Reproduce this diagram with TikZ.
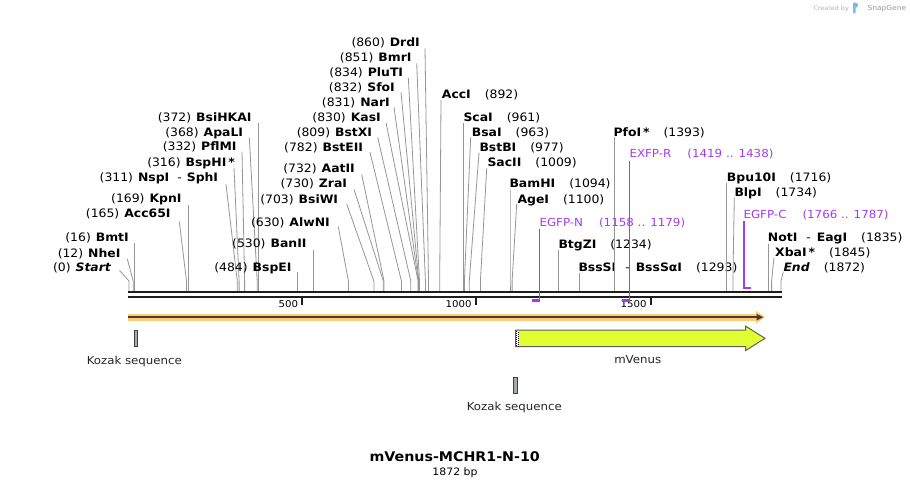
\documentclass[tikz,border=0pt]{standalone}
\usepackage{fontspec}
\setmainfont[FakeStretch=1.07]{DejaVu Sans}
\definecolor{linegray}{RGB}{150,150,150}
\definecolor{primerpurple}{RGB}{165,60,235}
\definecolor{bbcol}{RGB}{30,30,30}
\definecolor{orangeband}{RGB}{255,205,120}
\definecolor{darkline}{RGB}{70,60,50}
\definecolor{venus}{RGB}{225,255,48}
\definecolor{featborder}{RGB}{95,95,95}
\definecolor{kozakfill}{RGB}{165,170,175}
\definecolor{sgblue}{RGB}{120,190,235}
\tikzset{
  lab/.style={font=\fontsize{11.6}{13}\selectfont, inner sep=0pt, text=black},
  plab/.style={font=\fontsize{11.1}{13}\selectfont, inner sep=0pt, text=primerpurple},
  enzline/.style={draw=linegray, line width=0.8pt},
  primerline/.style={draw=primerpurple, line width=1.3pt},
  primerbar/.style={draw=primerpurple, line width=2.2pt},
  bbline/.style={draw=bbcol, line width=2.6pt},
  tickline/.style={draw=bbcol, line width=1.6pt},
  ticklab/.style={font=\fontsize{9.5}{11}\selectfont, inner sep=0pt},
  featlab/.style={font=\fontsize{11}{13}\selectfont, inner sep=0pt, text=black!85},
}
\newcommand\enzL[8]{%
  \node[lab, anchor=base east] (#1) at (#3,#2+4.3) {(#4)\hspace{5pt}\textbf{#5}};
  \coordinate (#1-a) at (#6,#7);
  \coordinate (#1-b) at (#8,281);
  \coordinate (#1-c) at (#8,291);
  \draw[enzline] (#1-a) -- (#1-b) -- (#1-c);
}
\newcommand\enzR[8]{%
  \node[lab, anchor=base west] (#1) at (#3,#2+4.3) {\textbf{#4}\hspace{14pt}(#5)};
  \coordinate (#1-a) at (#6,#7);
  \coordinate (#1-b) at (#8,281);
  \coordinate (#1-c) at (#8,291);
  \draw[enzline] (#1-a) -- (#1-b) -- (#1-c);
}
\begin{document}
\begin{tikzpicture}[x=1pt,y=-1pt]
\useasboundingbox (0,0) rectangle (910,488);
\fill[white] (0,0) rectangle (910,488);

% watermark
\node[font=\fontsize{6}{7}\selectfont, text=black!30, inner sep=0pt, anchor=base west] (created) at (813.3,10) {Created by};
\fill[sgblue] (853,2.5) rectangle (855.5,13) (855.5,2.5) arc[start angle=90,end angle=-90,radius=2.6pt] -- cycle;
\node[font=\fontsize{7}{8}\selectfont, text=black!40, inner sep=0pt, anchor=base west] (sg) at (867.3,10.5) {SnapGene};

% enzyme sites, left-side labels
\enzL{start}{266.7}{111.5}{0}{\textit{Start}}{119.5}{270.5}{129}
\enzL{nhe}{252.7}{120.7}{12}{NheI}{127.3}{259}{133.2}
\enzL{bmt}{237}{129}{16}{BmtI}{134.6}{243}{134.6}
\enzL{acc65}{213.3}{170.7}{165}{Acc65I}{179.3}{221.7}{186.5}
\enzL{kpn}{198}{181.7}{169}{KpnI}{187.9}{205}{187.9}
\enzL{nsp}{177}{218.3}{311}{NspI\hspace{8pt}\textmd{-}\hspace{5pt}SphI}{226}{184.3}{237.3}
\enzL{bsphi}{162}{235}{316}{BspHI\,*}{234}{168}{239.1}
\enzL{pflm}{146.3}{236.7}{332}{PflMI}{242}{151.7}{244.6}
\enzL{apal}{131.7}{243.3}{368}{ApaLI}{249.3}{137.7}{257.2}
\enzL{bsihk}{116.7}{251.7}{372}{BsiHKAI}{258.6}{122.7}{258.6}
\enzL{bspe}{267}{291.7}{484}{BspEI}{297.6}{271.7}{297.6}
\enzL{ban2}{243}{306.7}{530}{BanII}{313.6}{250}{313.6}
\enzL{alwn}{222}{330}{630}{AlwNI}{338.3}{226.7}{348.4}
\enzL{bsiw}{198.7}{338.3}{703}{BsiWI}{346.7}{204}{373.9}
\enzL{zra}{183}{347.3}{730}{ZraI}{354}{189.3}{383.3}
\enzL{aat2}{168}{355}{732}{AatII}{361.7}{174.3}{384.0}
\enzL{bste2}{146.7}{363.3}{782}{BstEII}{370}{152.3}{401.4}
\enzL{bstx}{131.7}{372.3}{809}{BstXI}{377.7}{137.3}{410.8}
\enzL{kas}{117}{381}{830}{KasI}{386}{122.7}{418.1}
\enzL{nar}{102}{390}{831}{NarI}{394}{107.3}{418.4}
\enzL{sfo}{87}{395}{832}{SfoI}{401}{92.3}{418.8}
\enzL{plut}{72}{403.3}{834}{PluTI}{408.3}{77.7}{419.5}
\enzL{bmr}{57}{411.7}{851}{BmrI}{416.7}{63.3}{425.4}
\enzL{drd}{42.5}{420}{860}{DrdI}{425}{48.3}{428.5}

% enzyme sites, right-side labels
\enzR{acc1}{94}{441.7}{AccI}{892}{441}{100}{439.7}
\enzR{sca}{116.7}{463.3}{ScaI}{961}{463.7}{122.7}{463.7}
\enzR{bsa}{131.7}{471.7}{BsaI}{963}{470.7}{137.3}{464.4}
\enzR{bstb}{146.7}{479.3}{BstBI}{977}{479}{152.7}{469.3}
\enzR{sac2}{162}{487.3}{SacII}{1009}{486.7}{168.3}{480.4}
\enzR{bamh}{183.3}{509.3}{BamHI}{1094}{510}{190}{510}
\enzR{age}{198.7}{517.3}{AgeI}{1100}{516.7}{204}{512.1}
\enzR{btgz}{244}{558.3}{BtgZI}{1234}{558.8}{250}{558.8}
\enzR{bsss}{266.7}{578.3}{BssSI\hspace{9pt}\textmd{-}\hspace{6pt}BssSαI}{1293}{579.3}{272.7}{579.3}
\enzR{pfo}{131.7}{613.3}{PfoI\,*}{1393}{614.2}{137.3}{614.2}
\enzR{bpu10}{177.3}{726.7}{Bpu10I}{1716}{726.7}{182.7}{726.7}
\enzR{blp}{192}{734.3}{BlpI}{1734}{734.3}{197.3}{732.9}
\enzR{not}{236.7}{767.7}{NotI\hspace{9pt}\textmd{-}\hspace{6pt}EagI}{1835}{768.1}{244}{768.1}
\enzR{xba}{252}{775}{XbaI\,*}{1845}{774}{257.3}{771.6}
\enzR{end}{267.3}{783.3}{\textit{End}}{1872}{783.3}{271.7}{781}

% backbone
\coordinate (bbL) at (128,292);
\coordinate (bbR) at (781.7,292);
\coordinate (bbL2) at (128,296.8);
\coordinate (bbR2) at (781.7,296.8);
\draw[bbline] (bbL) -- (bbR);
\draw[bbline] (bbL2) -- (bbR2);

% ticks
\coordinate (t500a) at (301.7,297); \coordinate (t500b) at (301.7,304.5);
\coordinate (t1000a) at (476,297); \coordinate (t1000b) at (476,304.5);
\coordinate (t1500a) at (651,297); \coordinate (t1500b) at (651,304.5);
\draw[tickline] (t500a) -- (t500b);
\draw[tickline] (t1000a) -- (t1000b);
\draw[tickline] (t1500a) -- (t1500b);
\node[ticklab, anchor=base east] (l500) at (298.3,307.5) {500};
\node[ticklab, anchor=base east] (l1000) at (471.7,307.5) {1000};
\node[ticklab, anchor=base east] (l1500) at (646.7,307.5) {1500};

% primers
\node[plab, anchor=base west] (egfpn) at (539.3,226) {EGFP-N\hspace{16pt}(1158 .. 1179)};
\coordinate (egfpn-a) at (539.5,228.5);
\coordinate (egfpn-b) at (539.5,301.5);
\draw[primerline] (egfpn-a) -- (egfpn-b);
\coordinate (egfpn-s) at (532.3,300.5); \coordinate (egfpn-e) at (539.8,300.5);
\draw[primerbar] (egfpn-s) -- (egfpn-e);

\node[plab, anchor=base west] (exfpr) at (629.3,157.6) {EXFP-R\hspace{16pt}(1419 .. 1438)};
\coordinate (exfpr-a) at (629.5,160.5);
\coordinate (exfpr-b) at (629.5,301.5);
\draw[primerline] (exfpr-a) -- (exfpr-b);
\coordinate (exfpr-s) at (622.3,300.5); \coordinate (exfpr-e) at (629.8,300.5);
\draw[primerbar] (exfpr-s) -- (exfpr-e);

\node[plab, anchor=base west] (egfpc) at (743.3,218.6) {EGFP-C\hspace{16pt}(1766 .. 1787)};
\coordinate (egfpc-a) at (744,220.5);
\coordinate (egfpc-b) at (744,288.5);
\draw[primerline] (egfpc-a) -- (egfpc-b);
\coordinate (egfpc-s) at (743.4,287.7); \coordinate (egfpc-e) at (751.2,287.7);
\draw[primerbar] (egfpc-s) -- (egfpc-e);

% orange ORF arrow
\coordinate (orfL) at (128,317.2);
\coordinate (orfR) at (757.5,317.2);
\draw[orangeband, line width=7pt] (orfL) -- (orfR);
\fill[orangeband] (756,310.8) -- (765,317.2) -- (756,323.6) -- cycle;
\coordinate (orfL2) at (128,317.2);
\coordinate (orfR2) at (758,317.2);
\draw[darkline, line width=2pt] (orfL2) -- (orfR2);
\fill[darkline] (756.5,313.8) -- (763.2,317.2) -- (756.5,320.6) -- cycle;

% Kozak 1
\node[draw=black!75, fill=kozakfill, line width=0.8pt, minimum width=3.4pt, minimum height=16.5pt, inner sep=0pt] (koz1) at (135.8,338.3) {};
\node[featlab, anchor=base] (koz1l) at (134.3,364) {Kozak sequence};

% mVenus
\draw[draw=featborder, fill=venus, line width=1pt] (515.7,330) -- (745.7,330) -- (745.7,326.2) -- (765,338.3) -- (745.7,350.5) -- (745.7,346.7) -- (515.7,346.7) -- cycle;
\fill[white] (516.2,330.5) rectangle (519,346.2);
\draw[black, line width=1pt, dash pattern=on 1pt off 1pt] (516.7,330.5) -- (516.7,346.2);
\draw[black, line width=1pt, dash pattern=on 1pt off 1pt] (518.5,331.5) -- (518.5,346.2);
\coordinate (venusC) at (637.7,338.3);
\node[featlab, anchor=base] (venusl) at (637.7,363.5) {mVenus};

% Kozak 2
\node[draw=black!75, fill=kozakfill, line width=0.8pt, minimum width=3.6pt, minimum height=16pt, inner sep=0pt] (koz2) at (515.3,385.3) {};
\node[featlab, anchor=base] (koz2l) at (514.3,410.5) {Kozak sequence};

% title
\node[font=\fontsize{13.3}{16}\bfseries\selectfont, inner sep=0pt, anchor=base] (title) at (454.7,461.7) {mVenus-MCHR1-N-10};
\node[font=\fontsize{10.2}{12}\selectfont, inner sep=0pt, anchor=base] (bp) at (455,475.7) {1872 bp};
\end{tikzpicture}
\end{document}
